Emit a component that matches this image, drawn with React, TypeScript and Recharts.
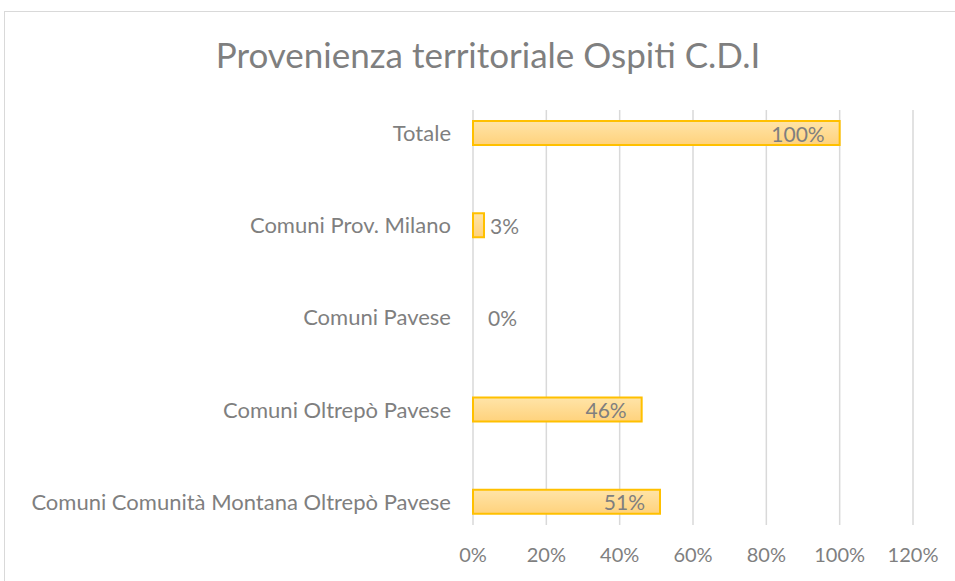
import { Bar, CartesianGrid, ComposedChart, Scatter, XAxis, YAxis } from 'recharts';

const categories = [
  'Totale',
  'Comuni Prov. Milano',
  'Comuni Pavese',
  'Comuni Oltrepò Pavese',
  'Comuni Comunità Montana Oltrepò Pavese',
];
const shares = [100, 3, 0, 46, 51];
const xTicks = [0, 20, 40, 60, 80, 100, 120];

const data = categories.map((name, i) => ({ name, share: shares[i] }));

const FONT = 'Lato, "Open Sans", sans-serif';
const GREY = '#7f7f7f';

// Excel "inside end" labels: small bars push the label outside the bar
function ShareLabel(props: any) {
  const { cx, cy, payload } = props;
  const value = payload.share;
  const inside = value >= 10;
  const gap = value === 0 ? 15 : 6;
  return (
    <text
      x={inside ? cx - 15 : cx + gap}
      y={cy}
      textAnchor={inside ? 'end' : 'start'}
      dominantBaseline="central"
      fontSize={21}
      fontFamily={FONT}
      fill={GREY}
    >
      {`${value}%`}
    </text>
  );
}

export default function App() {
  return (
    <div
      style={{
        position: 'absolute',
        left: 0,
        top: 0,
        width: 955,
        height: 581,
        background: '#fff',
        overflow: 'hidden',
      }}
    >
      {/* chart frame */}
      <div
        style={{
          position: 'absolute',
          left: 4,
          top: 11,
          width: 1000,
          height: 620,
          border: '1px solid #d9d9d9',
        }}
      />
      <div
        style={{
          position: 'absolute',
          left: 0,
          top: 33,
          width: 976,
          textAlign: 'center',
          fontFamily: FONT,
          fontSize: 35,
          color: GREY,
        }}
      >
        Provenienza territoriale Ospiti C.D.I
      </div>
      <div style={{ position: 'absolute', left: 0, top: 0 }}>
        <ComposedChart
          width={955}
          height={581}
          data={data}
          layout="vertical"
          margin={{ top: 110, right: 42, bottom: 16, left: 0 }}
        >
          <defs>
            <linearGradient id="barGrad" x1="0" y1="0" x2="0" y2="1">
              <stop offset="0%" stopColor="#ffe4a8" />
              <stop offset="100%" stopColor="#ffd27c" />
            </linearGradient>
          </defs>
          <CartesianGrid horizontal={false} stroke="#d9d9d9" strokeWidth={1.5} />
          <XAxis
            type="number"
            dataKey="share"
            domain={[0, 120]}
            ticks={xTicks}
            tickFormatter={(v: number) => `${v}%`}
            axisLine={false}
            tickLine={false}
            tickSize={0}
            tickMargin={23}
            height={40}
            tick={{ fontSize: 20, fontFamily: FONT, fill: GREY }}
          />
          <YAxis
            type="category"
            dataKey="name"
            width={473}
            axisLine={false}
            tickLine={false}
            tickSize={0}
            tickMargin={22}
            padding={{ top: -23, bottom: -23 }}
            tick={{ fontSize: 22, fontFamily: FONT, fill: GREY }}
          />
          <Bar
            dataKey="share"
            barSize={24}
            fill="url(#barGrad)"
            stroke="#ffc000"
            strokeWidth={2}
            isAnimationActive={false}
          />
          <Scatter dataKey="share" shape={ShareLabel} isAnimationActive={false} />
        </ComposedChart>
      </div>
    </div>
  );
}
